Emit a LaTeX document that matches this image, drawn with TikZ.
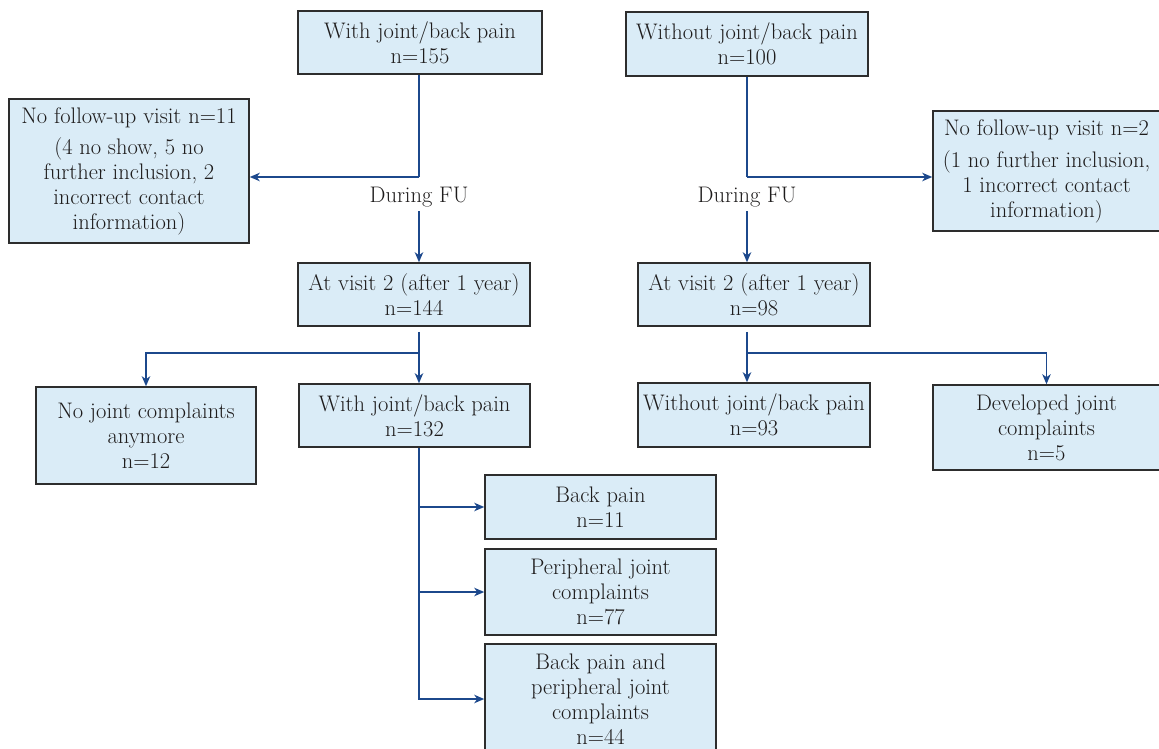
\documentclass[tikz,border=0pt]{standalone}
\usepackage{tikz}
\usetikzlibrary{arrows.meta}
\definecolor{boxFill}{RGB}{218,236,247}
\definecolor{boxLine}{RGB}{45,45,45}
\definecolor{flowLine}{RGB}{28,72,140}
\definecolor{ink}{RGB}{30,28,28}

\begin{document}
\begin{tikzpicture}[x=1pt, y=-1pt, font=\fontsize{22.5}{25}\selectfont, text=ink,
  box/.style={draw=boxLine, fill=boxFill, line width=1.6pt, align=center, inner sep=0pt},
  link/.style={draw=flowLine, line width=1.3pt},
  flow/.style={link, -{Stealth[length=10pt, width=8.5pt, inset=3pt]}},
  tag/.style={inner sep=4pt}]
  \useasboundingbox (0,0) rectangle (1159,748);
  \node[box, minimum width=244, minimum height=63] (withPain) at (420,42.5) {With joint/back pain\\ n=155};
  \node[box, minimum width=242, minimum height=64] (withoutPain) at (747,44) {Without joint/back pain\\ n=100};
  \node[box, minimum width=240, minimum height=144] (lostWith) at (129,171) {No follow-up visit n=11\\[6pt] (4 no show, 5 no\\ further inclusion, 2\\ incorrect contact\\ information)};
  \node[box, minimum width=227, minimum height=120] (lostWithout) at (1046.5,171) {No follow-up visit n=2\\[7pt] (1 no further inclusion,\\ 1 incorrect contact\\ information)};
  \node[tag] (fuWith) at (419,197) {During FU};
  \node[tag] (fuWithout) at (747,197) {During FU};
  \node[box, minimum width=232, minimum height=63] (visitWith) at (414,294.5) {At visit 2 (after 1 year)\\ n=144};
  \node[box, minimum width=232, minimum height=63] (visitWithout) at (754,294.5) {At visit 2 (after 1 year)\\ n=98};
  \node[box, minimum width=220, minimum height=97] (noPain) at (146,435.5) {No joint complaints\\ anymore\\ n=12};
  \node[box, minimum width=231, minimum height=63] (stillPain) at (414.5,415.5) {With joint/back pain\\ n=132};
  \node[box, minimum width=232, minimum height=64] (noneYet) at (754,415) {Without joint/back pain\\ n=93};
  \node[box, minimum width=227, minimum height=85] (developed) at (1046.5,427.5) {Developed joint\\ complaints\\ n=5};
  \node[box, minimum width=231, minimum height=64] (backOnly) at (600.5,507) {Back pain\\ n=11};
  \node[box, minimum width=231, minimum height=86] (periphOnly) at (600.5,592) {Peripheral joint\\ complaints\\ n=77};
  \node[box, minimum width=231, minimum height=110] (bothPain) at (600.5,699) {Back pain and\\ peripheral joint\\ complaints\\ n=44};
  % follow-up
  \coordinate (bendWith) at (419,177);
  \coordinate (bendWithout) at (747,177);
  \draw[link] (bendWith |- withPain.south) -- (bendWith);
  \draw[flow] (bendWith) -- (bendWith -| lostWith.east);
  \draw[flow] (fuWith.south) -- (fuWith.south |- visitWith.north);
  \draw[link] (bendWithout |- withoutPain.south) -- (bendWithout);
  \draw[flow] (bendWithout) -- (bendWithout -| lostWithout.west);
  \draw[flow] (fuWithout.south) -- (fuWithout.south |- visitWithout.north);
  % visit 2
  \coordinate (splitWith) at (419,353);
  \coordinate (splitWithout) at (747,353);
  \draw[link] (splitWith |- visitWith.south) ++(0,5) -- (splitWith);
  \draw[flow] (splitWith) -| (noPain.north);
  \draw[flow] (splitWith) -- (splitWith |- stillPain.north);
  \draw[link] (splitWithout |- visitWithout.south) ++(0,5) -- (splitWithout);
  \draw[flow] (splitWithout) -- (splitWithout |- noneYet.north);
  \draw[flow] (splitWithout) -| (developed.north);
  % subgroups
  \draw[flow] (splitWith |- stillPain.south) |- (backOnly.west);
  \draw[flow] (splitWith |- stillPain.south) |- (periphOnly.west);
  \draw[flow] (splitWith |- stillPain.south) |- (bothPain.west);
\end{tikzpicture}
\end{document}
